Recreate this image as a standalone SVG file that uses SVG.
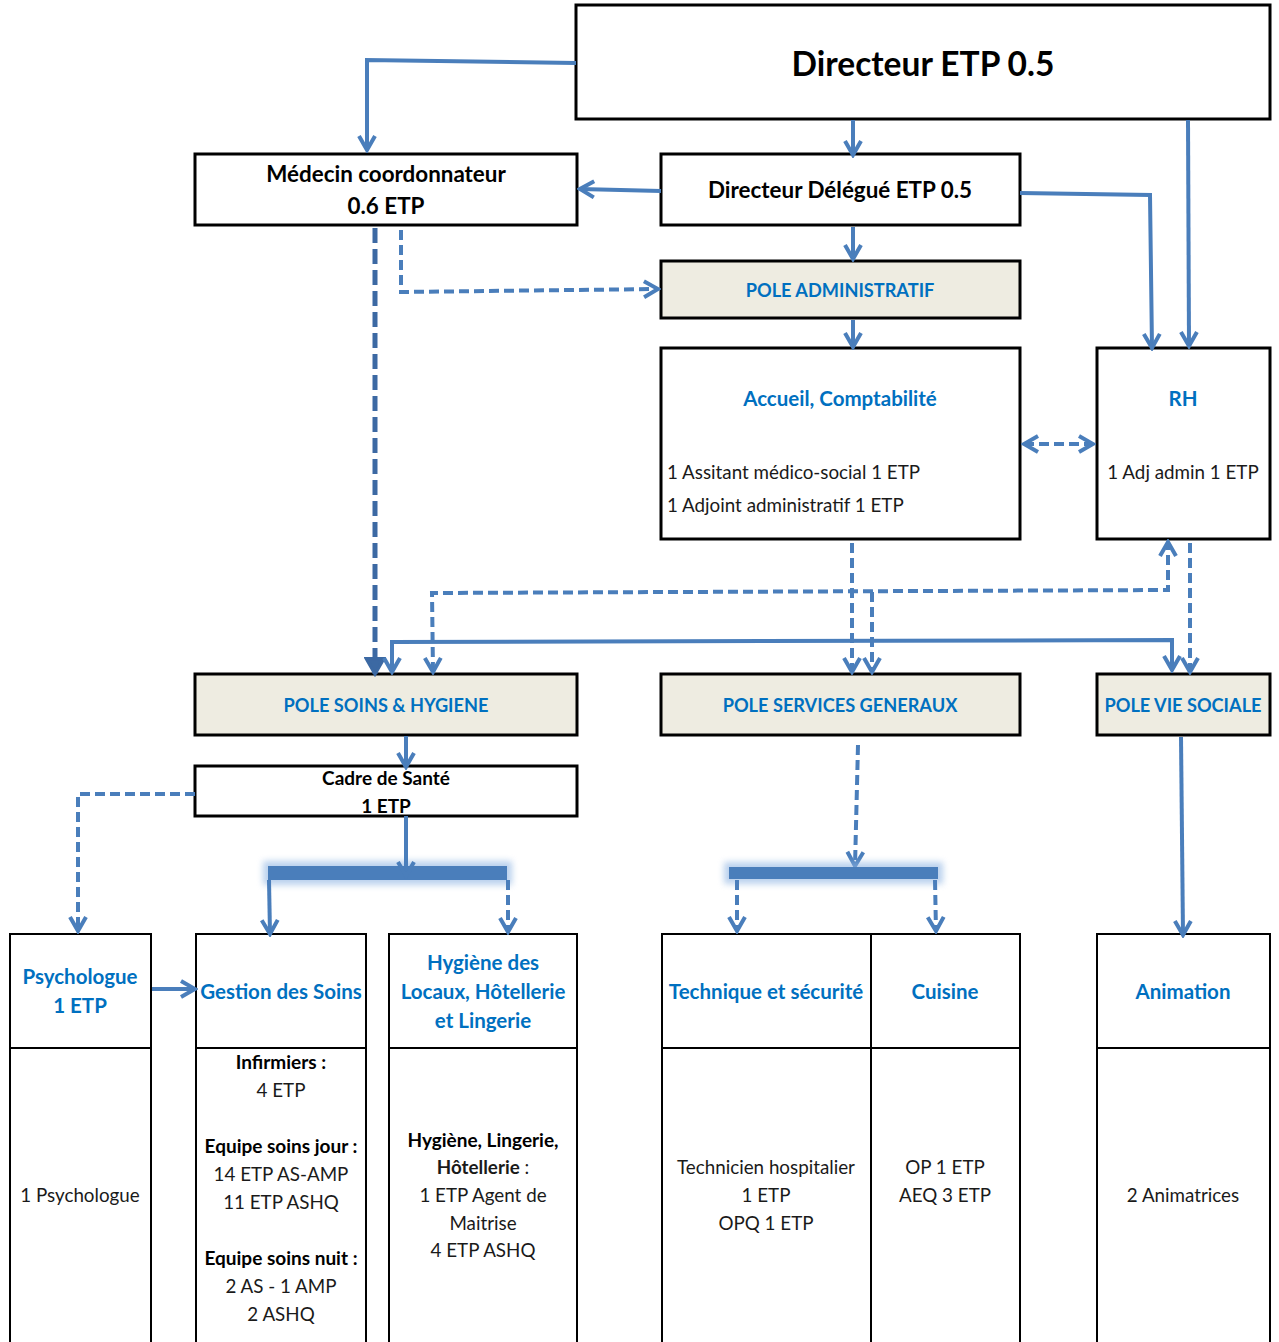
<svg xmlns="http://www.w3.org/2000/svg" width="1279" height="1342" viewBox="0 0 1279 1342">
<style>
.box{fill:#fff;stroke:#000;stroke-width:3}
.pole{fill:#EEECE1;stroke:#000;stroke-width:3}
.thin{fill:none;stroke:#000;stroke-width:2}
text{font-family:Lato,"Open Sans","Liberation Sans",sans-serif;text-anchor:middle}
.h{font-weight:bold;fill:#000;font-size:22.4px}
.b{font-weight:bold;fill:#0070C0;font-size:20.5px}
.p{font-weight:bold;fill:#0070C0;font-size:18.2px}
.t{fill:#1a1a1a;font-size:18.8px}
.tb{fill:#000;font-size:19px;font-weight:bold}
.c{fill:none;stroke:#4A7EBB;stroke-width:4}
.d{fill:none;stroke:#4A7EBB;stroke-width:4;stroke-dasharray:10 5}
.dk{fill:none;stroke:#3C69A3;stroke-width:5;stroke-dasharray:15 6}
</style>
<defs>
<marker id="a" viewBox="0 0 20 20" refX="17" refY="10" markerWidth="20" markerHeight="20" markerUnits="userSpaceOnUse" orient="auto-start-reverse">
<path d="M3,2 L17,10 L3,18" fill="none" stroke="#4A7EBB" stroke-width="4" stroke-linejoin="miter"/>
</marker>
<marker id="ak" viewBox="0 0 20 20" refX="17" refY="10" markerWidth="22" markerHeight="22" markerUnits="userSpaceOnUse" orient="auto">
<path d="M3,2 L17,10 L3,18 Z" fill="#3C69A3" stroke="#3C69A3" stroke-width="3"/>
</marker>
<filter id="glow" x="-10%" y="-100%" width="120%" height="300%">
<feGaussianBlur stdDeviation="3"/>
</filter>
</defs>

<g id="directeur">
<rect class="box" x="576" y="5" width="694" height="114"/>
<text class="h" x="923" y="76" style="font-size:33.5px">Directeur ETP 0.5</text>
</g>
<g id="medecin">
<rect class="box" x="195" y="154" width="382" height="71"/>
<text class="h" x="386" y="182">Médecin coordonnateur</text>
<text class="h" x="386" y="214">0.6 ETP</text>
</g>
<g id="directeur-delegue">
<rect class="box" x="661" y="154" width="359" height="71"/>
<text class="h" x="840" y="198">Directeur Délégué ETP 0.5</text>
</g>
<g id="pole-admin">
<rect class="pole" x="661" y="261" width="359" height="57"/>
<text class="p" x="840" y="297">POLE ADMINISTRATIF</text>
</g>
<g id="accueil">
<rect class="box" x="661" y="348" width="359" height="191"/>
<text class="b" x="840" y="406">Accueil, Comptabilité</text>
<text class="t" x="667" y="479" style="text-anchor:start">1 Assitant médico-social 1 ETP</text>
<text class="t" x="667" y="512" style="text-anchor:start">1 Adjoint administratif 1 ETP</text>
</g>
<g id="rh">
<rect class="box" x="1097" y="348" width="173" height="191"/>
<text class="b" x="1183" y="406">RH</text>
<text class="t" x="1183" y="479">1 Adj admin 1 ETP</text>
</g>
<g id="pole-soins">
<rect class="pole" x="195" y="674" width="382" height="61"/>
<text class="p" x="386" y="712">POLE SOINS &amp; HYGIENE</text>
</g>
<g id="pole-services">
<rect class="pole" x="661" y="674" width="359" height="61"/>
<text class="p" x="840" y="712">POLE SERVICES GENERAUX</text>
</g>
<g id="pole-vie">
<rect class="pole" x="1097" y="674" width="173" height="61"/>
<text class="p" x="1183" y="712">POLE VIE SOCIALE</text>
</g>
<g id="cadre">
<rect class="box" x="195" y="766" width="382" height="50"/>
<text class="tb" x="386" y="785">Cadre de Santé</text>
<text class="tb" x="386" y="813">1 ETP</text>
</g>
<g id="psychologue">
<rect class="thin" x="10" y="934" width="141" height="410"/>
<line class="thin" x1="10" y1="1048" x2="151" y2="1048"/>
<text class="b" x="80" y="984">Psychologue</text>
<text class="b" x="80" y="1013">1 ETP</text>
<text class="t" x="80" y="1202">1 Psychologue</text>
</g>
<g id="gestion-soins">
<rect class="thin" x="196" y="934" width="170" height="410"/>
<line class="thin" x1="196" y1="1048" x2="366" y2="1048"/>
<text class="b" x="281" y="999">Gestion des Soins</text>
<text class="tb" x="281" y="1069">Infirmiers :</text>
<text class="t" x="281" y="1097">4 ETP</text>
<text class="tb" x="281" y="1153">Equipe soins jour :</text>
<text class="t" x="281" y="1181">14 ETP AS-AMP</text>
<text class="t" x="281" y="1209">11 ETP ASHQ</text>
<text class="tb" x="281" y="1265">Equipe soins nuit :</text>
<text class="t" x="281" y="1293">2 AS - 1 AMP</text>
<text class="t" x="281" y="1321">2 ASHQ</text>
</g>
<g id="hygiene">
<rect class="thin" x="389" y="934" width="188" height="410"/>
<line class="thin" x1="389" y1="1048" x2="577" y2="1048"/>
<text class="b" x="483" y="970">Hygiène des</text>
<text class="b" x="483" y="999">Locaux, Hôtellerie</text>
<text class="b" x="483" y="1028">et Lingerie</text>
<text class="tb" x="483" y="1147">Hygiène, Lingerie,</text>
<text class="t" x="483" y="1174"><tspan style="font-weight:bold">Hôtellerie</tspan> :</text>
<text class="t" x="483" y="1202">1 ETP Agent de</text>
<text class="t" x="483" y="1230">Maitrise</text>
<text class="t" x="483" y="1257">4 ETP ASHQ</text>
</g>
<g id="technique">
<rect class="thin" x="662" y="934" width="209" height="410"/>
<line class="thin" x1="662" y1="1048" x2="871" y2="1048"/>
<text class="b" x="766" y="999">Technique et sécurité</text>
<text class="t" x="766" y="1174">Technicien hospitalier</text>
<text class="t" x="766" y="1202">1 ETP</text>
<text class="t" x="766" y="1230">OPQ 1 ETP</text>
</g>
<g id="cuisine">
<rect class="thin" x="871" y="934" width="149" height="410"/>
<line class="thin" x1="871" y1="1048" x2="1020" y2="1048"/>
<text class="b" x="945" y="999">Cuisine</text>
<text class="t" x="945" y="1174">OP 1 ETP</text>
<text class="t" x="945" y="1202">AEQ 3 ETP</text>
</g>
<g id="animation">
<rect class="thin" x="1097" y="934" width="173" height="410"/>
<line class="thin" x1="1097" y1="1048" x2="1270" y2="1048"/>
<text class="b" x="1183" y="999">Animation</text>
<text class="t" x="1183" y="1202">2 Animatrices</text>
</g>

<g id="connectors">
<polyline class="c" points="576,63 367,60 367,150" marker-end="url(#a)"/>
<line class="c" x1="853" y1="120" x2="853" y2="155" marker-end="url(#a)"/>
<line class="c" x1="1188" y1="120" x2="1189" y2="346" marker-end="url(#a)"/>
<polyline class="c" points="1020,193 1150,195 1152,348" marker-end="url(#a)"/>
<line class="c" x1="661" y1="191" x2="580" y2="189" marker-end="url(#a)"/>
<line class="c" x1="853" y1="227" x2="853" y2="259" marker-end="url(#a)"/>
<line class="c" x1="853" y1="320" x2="853" y2="347" marker-end="url(#a)"/>
<polyline class="d" points="401,230 401,292 658,289" marker-end="url(#a)"/>
<line class="dk" x1="375" y1="228" x2="375" y2="674" marker-end="url(#ak)"/>
<line class="d" x1="1024" y1="444" x2="1093" y2="444" marker-start="url(#a)" marker-end="url(#a)"/>
<polyline class="d" points="433,672 432,593 1168,590 1168,542" marker-start="url(#a)" marker-end="url(#a)"/>
<line class="d" x1="872" y1="592" x2="872" y2="672" marker-end="url(#a)"/>
<line class="d" x1="852" y1="543" x2="852" y2="672" marker-end="url(#a)"/>
<line class="d" x1="1190" y1="543" x2="1190" y2="672" marker-end="url(#a)"/>
<polyline class="c" points="392,672 392,642 1172,640 1172,670" marker-start="url(#a)" marker-end="url(#a)"/>
<line class="c" x1="406" y1="736" x2="406" y2="767" marker-end="url(#a)"/>
<polyline class="d" points="195,794 78,794 78,931" marker-end="url(#a)"/>
<rect x="263" y="861" width="249" height="24" fill="#8DB3E2" opacity="0.6" filter="url(#glow)"/>
<rect x="268" y="866" width="239" height="14" fill="#4A7EBB"/>
<line class="c" x1="406" y1="816" x2="406" y2="876" marker-end="url(#a)"/>
<line class="c" x1="269" y1="880" x2="270" y2="934" marker-end="url(#a)"/>
<line class="d" x1="508" y1="880" x2="508" y2="932" marker-end="url(#a)"/>
<line class="d" x1="858" y1="745" x2="855" y2="866" marker-end="url(#a)"/>
<rect x="724" y="862" width="219" height="22" fill="#8DB3E2" opacity="0.6" filter="url(#glow)"/>
<rect x="729" y="867" width="209" height="12" fill="#4A7EBB"/>
<line class="d" x1="737" y1="880" x2="737" y2="931" marker-end="url(#a)"/>
<line class="d" x1="935" y1="880" x2="936" y2="931" marker-end="url(#a)"/>
<line class="c" x1="1181" y1="737" x2="1183" y2="935" marker-end="url(#a)"/>
<line class="c" x1="152" y1="989" x2="195" y2="989" marker-end="url(#a)"/>
</g>
</svg>
